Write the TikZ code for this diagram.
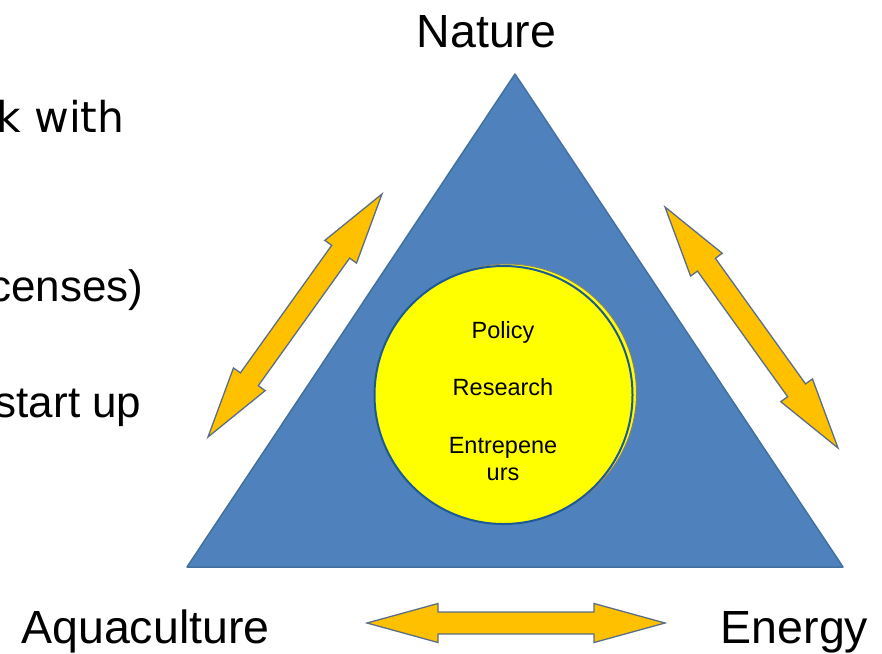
\documentclass[tikz,border=0pt]{standalone}
\usepackage{fontspec}
\setmainfont{Liberation Sans}
\newfontfamily\verdfont{DejaVu Sans}
\usepackage{tikz}
\usetikzlibrary{calc}
\usetikzlibrary{shapes}
\definecolor{triblue}{HTML}{4F81BD}
\definecolor{triline}{HTML}{41719C}
\definecolor{ringline}{HTML}{1C5A96}
\definecolor{coreyellow}{HTML}{FFFF00}
\definecolor{goldfill}{HTML}{FFC000}
\definecolor{goldline}{HTML}{5A6E85}
\tikzset{
  corner label/.style={anchor=base, font=\fontsize{46.5}{50}\selectfont},
  core label/.style={anchor=base, font=\fontsize{23.5}{27}\selectfont},
  side text/.style={anchor=base east, font=\fontsize{44}{48}\selectfont},
  goldarrow/.style={fill=goldfill, draw=goldline, line width=1.3pt, line join=miter},
}
% double block arrow from #1 to #2
\newcommand{\blockarrow}[2]{%
  \filldraw[goldarrow] (#1)
    -- ($(#1)!71pt!(#2)!19.5pt!90:(#2)$)
    -- ($(#1)!71pt!(#2)!11pt!90:(#2)$)
    -- ($(#2)!71pt!(#1)!11pt!-90:(#1)$)
    -- ($(#2)!71pt!(#1)!19.5pt!-90:(#1)$)
    -- (#2)
    -- ($(#2)!71pt!(#1)!19.5pt!90:(#1)$)
    -- ($(#2)!71pt!(#1)!11pt!90:(#1)$)
    -- ($(#1)!71pt!(#2)!11pt!-90:(#2)$)
    -- ($(#1)!71pt!(#2)!19.5pt!-90:(#2)$)
    -- cycle;}

\begin{document}
\begin{tikzpicture}[x=1pt, y=-1pt]
\useasboundingbox (0,0) rectangle (882,653);
% left slide text, cut off
\node[side text, font=\verdfont\fontsize{42.5}{46}\selectfont] (txta) at (128,132) {k with};
\node[side text] (txtb) at (147,301) {censes)};
\node[side text] (txtc) at (145,417) {start up};
% triangle
\coordinate (apex) at (515,74);
\coordinate (bl) at (187,567);
\coordinate (br) at (843,567);
\filldraw[fill=triblue, draw=triline, line width=1.5pt, line join=round] (apex) -- (br) -- (bl) -- cycle;
% centre circle
\node[circle, minimum size=258pt, inner sep=0, fill=coreyellow, draw=gray, line width=1pt] (coreback) at (507.5,393) {};
\node[circle, minimum size=258pt, inner sep=0, fill=coreyellow, draw=ringline, line width=2pt] (core) at (503.5,395) {};
\node[core label] (policy) at (503,338) {Policy};
\node[core label] (research) at (503,395) {Research};
\node[core label] (entre) at (503,453) {Entrepene};
\node[core label] (urs) at (503,480) {urs};
% corner labels
\node[corner label] (nature) at (486.5,47) {Nature};
\node[corner label] (aqua) at (145.5,643) {Aquaculture};
\node[corner label] (energy) at (794.5,643) {Energy};
% arrows
\coordinate (la) at (382,194);
\coordinate (lb) at (208,437);
\coordinate (ra) at (665,207);
\coordinate (rb) at (838,448);
\coordinate (ba) at (367,623);
\coordinate (bb) at (665,623);
\blockarrow{la}{lb}
\blockarrow{ra}{rb}
\blockarrow{ba}{bb}
\end{tikzpicture}
\end{document}
